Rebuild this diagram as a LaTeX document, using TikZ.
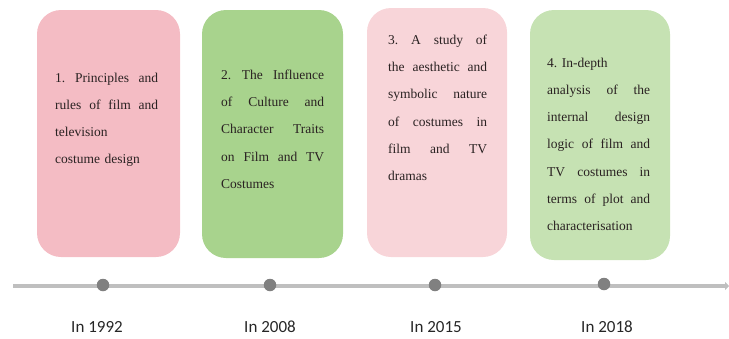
\documentclass[tikz,border=0pt]{standalone}
\usepackage{fontspec}
\newfontfamily\cardfont{Liberation Serif}
\newfontfamily\labelfont{Carlito}
\usetikzlibrary{arrows.meta}
\definecolor{boxA}{HTML}{F4BCC4}
\definecolor{boxB}{HTML}{A8D38D}
\definecolor{boxC}{HTML}{F8D5D9}
\definecolor{boxD}{HTML}{C6E2B3}
\definecolor{txt}{HTML}{2A2222}
\definecolor{axis}{HTML}{BFBFBF}
\definecolor{dot}{HTML}{808080}
\newlength{\cardw}
\setlength{\cardw}{103pt}
\newcommand{\jline}[1]{\leavevmode\hbox to \cardw{\spaceskip=0.25em plus 1fil\relax\xspaceskip=0.25em plus 1fil\relax #1}}
\frenchspacing
\tikzset{
  card/.style={rounded corners=24pt},
  cardtext/.style={anchor=north west, inner sep=0pt, text width=106pt, align=left, text=txt,
    font=\cardfont\fontsize{13.5}{27.3}\selectfont\frenchspacing},
  cardtextn/.style={cardtext, font=\cardfont\fontsize{13.5}{27.3}\selectfont\frenchspacing\setlength{\cardw}{99pt}},
  yearlabel/.style={font=\labelfont\fontsize{17}{19}\selectfont, text=black!85, anchor=base},
  dotmark/.style={circle, fill=dot, minimum size=12.5pt, inner sep=0pt}
}
\begin{document}
\begin{tikzpicture}[x=1pt,y=-1pt]
\useasboundingbox (0,0) rectangle (729,338);
% cards
\fill[boxA, card] (37,10) rectangle (180,257);
\fill[boxB, card] (202,10) rectangle (343,258);
\fill[boxC, card] (367,8) rectangle (507,257);
\fill[boxD, card] (530,10) rectangle (670,260);
\node[cardtext] (t1) at (55,72.5) {\jline{1. Principles and}\\ \jline{rules of film and}\\ television\\ costume design};
\node[cardtext] (t2) at (221,69.5) {\jline{2. The Influence}\\ \jline{of Culture and}\\ \jline{Character Traits}\\ \jline{on Film and TV}\\ Costumes};
\node[cardtextn] (t3) at (388,34.5) {\jline{3. A study of}\\ \jline{the aesthetic and}\\ \jline{symbolic nature}\\ \jline{of costumes in}\\ \jline{film and TV}\\ dramas};
\node[cardtext] (t4) at (547,57.5) {4. In-depth\\ \jline{analysis of the}\\ \jline{internal design}\\ \jline{logic of film and}\\ \jline{TV costumes in}\\ \jline{terms of plot and}\\ characterisation};
% timeline
\coordinate (s) at (13,286);
\coordinate (e) at (729,286);
\draw[axis, line width=4.5pt, -{Triangle[length=4pt,width=8pt]}] (s) -- (e);
\node[dotmark] (d1) at (103,285) {};
\node[dotmark] (d2) at (270,285) {};
\node[dotmark] (d3) at (435,285) {};
\node[dotmark] (d4) at (604,284) {};
\node[yearlabel] (y1) at (97,332) {In 1992};
\node[yearlabel] (y2) at (270,332) {In 2008};
\node[yearlabel] (y3) at (436,332) {In 2015};
\node[yearlabel] (y4) at (607,332) {In 2018};
\end{tikzpicture}
\end{document}
